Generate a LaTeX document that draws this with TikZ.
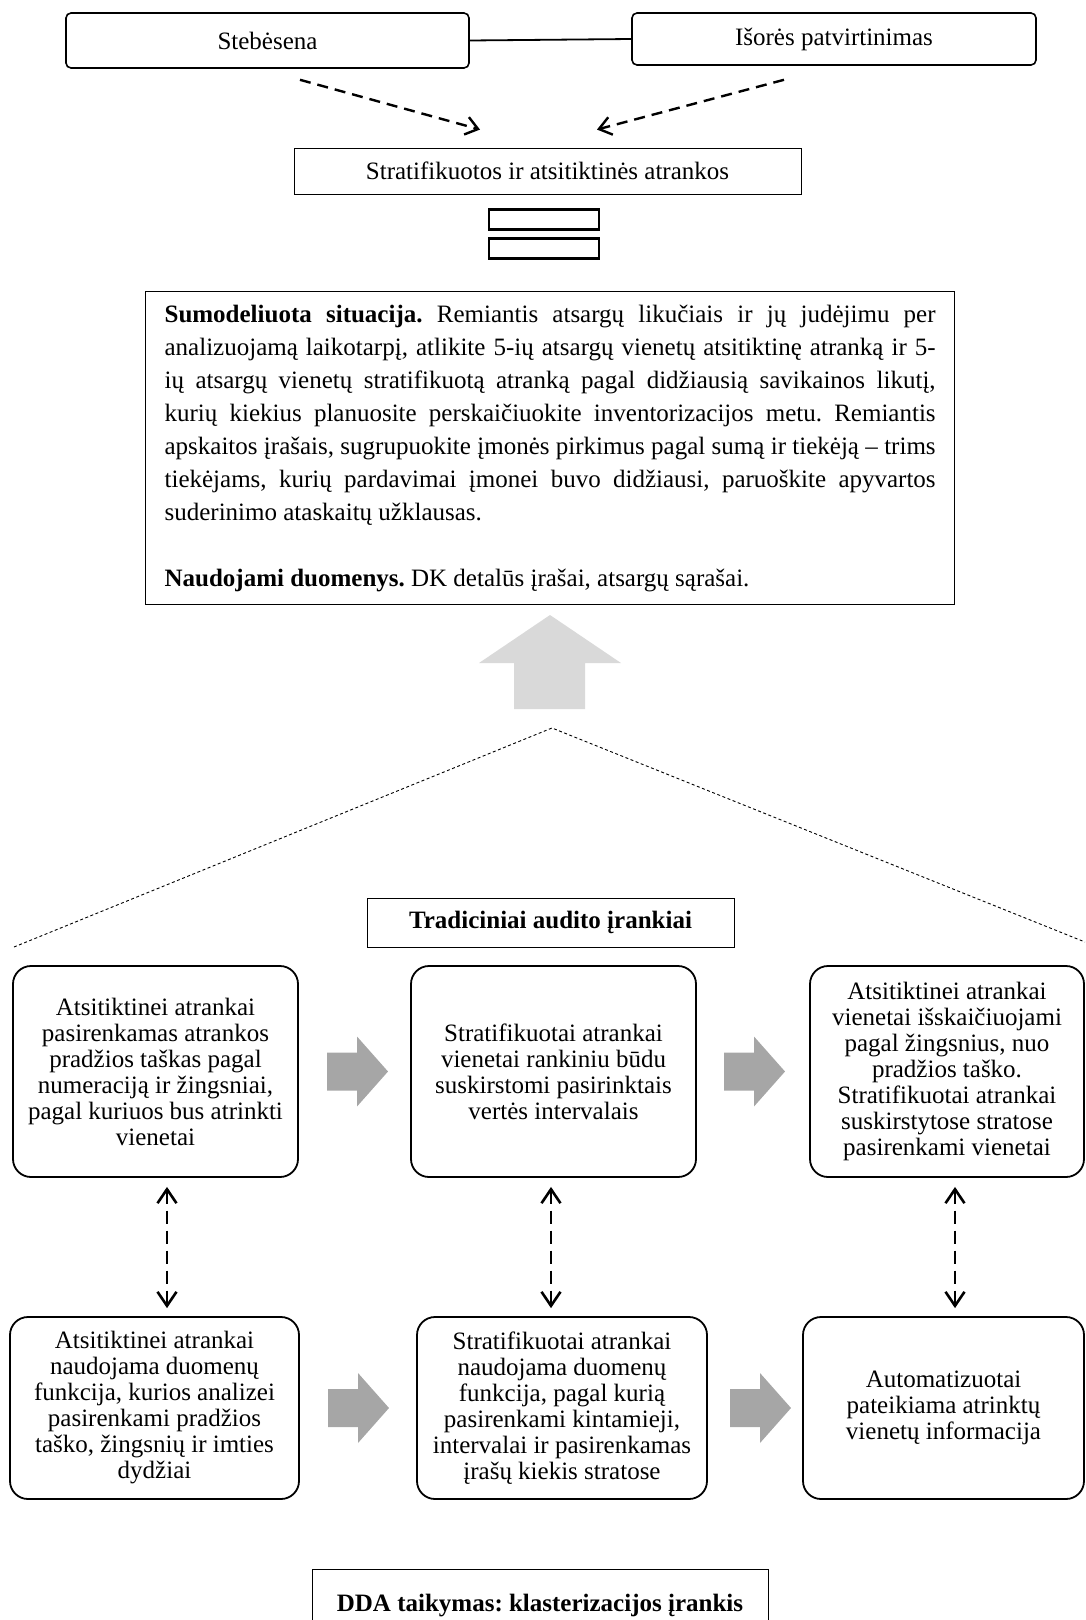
\documentclass[tikz,border=0pt]{standalone}
\usepackage{fontspec}
\setmainfont{Liberation Serif}
\usetikzlibrary{arrows.meta}
\frenchspacing
\newcommand\jline[1]{\hbox to 771pt{\strut #1}}
\newcommand\garrow[2]{\fill[black!35] (#1,#2) ++(0,-19) -- ++(30,0) -- ++(0,-16) -- ++(31,35) -- ++(-31,35) -- ++(0,-16) -- ++(-30,0) -- cycle;}
\begin{document}
\begin{tikzpicture}[x=1pt,y=-1pt,
  topbox/.style={draw, line width=1.6pt, rounded corners=5pt, font=\fontsize{25}{30}\selectfont, inner sep=0pt},
  thinbox/.style={draw, line width=0.9pt, inner sep=0pt, font=\fontsize{25}{30}\selectfont},
  boldbox/.style={thinbox, font=\fontsize{25}{30}\selectfont\bfseries},
  rbox/.style={draw, line width=1.8pt, rounded corners=18pt, align=center, inner sep=0pt, font=\fontsize{25}{26}\selectfont},
  dasharr/.style={line width=2.4pt, dash pattern=on 11pt off 7pt, -{Straight Barb[length=12pt,width=18pt]}},
  dblarr/.style={line width=2.6pt, dash pattern=on 13pt off 7pt, shorten <=9pt, shorten >=8pt, {Straight Barb[length=14pt,width=19pt]}-{Straight Barb[length=14pt,width=19pt]}},
  dotline/.style={line width=0.9pt, dash pattern=on 3pt off 2.5pt},
]
\useasboundingbox (0,0) rectangle (1085,1620);
\clip (0,0) rectangle (1085,1620);

% top
\node[topbox, minimum width=403pt, minimum height=55pt] (steb) at (267.5,40.5) {Stebėsena};
\node[topbox, minimum width=404pt, minimum height=52pt] (isor) at (834,39) {Išorės patvirtinimas};
\draw[line width=1.8pt] (steb.east) -- (isor.west);

\node[thinbox, minimum width=507pt, minimum height=46pt] (strat) at (547.5,171) {Stratifikuotos ir atsitiktinės atrankos};
\draw[dasharr] ([xshift=32.5pt,yshift=-11pt]steb.south) -- ([xshift=-67.5pt,yshift=18pt]strat.north);
\draw[dasharr] ([xshift=-50pt,yshift=-14pt]isor.south) -- ([xshift=49.5pt,yshift=18pt]strat.north);

\node[draw, line width=2.4pt, minimum width=110pt, minimum height=20pt, inner sep=0pt] (r1) at (544,219.5) {};
\node[draw, line width=2.4pt, minimum width=110pt, minimum height=20pt, inner sep=0pt] (r2) at (544,248.5) {};

% main text
\node[draw, line width=1.2pt, anchor=north west, inner xsep=19pt, inner ysep=8pt, align=left, font=\fontsize{25}{33}\selectfont] (main) at (145,291) {%
\jline{\textbf{Sumodeliuota situacija.} Remiantis atsargų likučiais ir jų judėjimu per}\\
\jline{analizuojamą laikotarpį, atlikite 5-ių atsargų vienetų atsitiktinę atranką ir 5-}\\
\jline{ių atsargų vienetų stratifikuotą atranką pagal didžiausią savikainos likutį,}\\
\jline{kurių kiekius planuosite perskaičiuokite inventorizacijos metu. Remiantis}\\
\jline{apskaitos įrašais, sugrupuokite įmonės pirkimus pagal sumą ir tiekėją – trims}\\
\jline{tiekėjams, kurių pardavimai įmonei buvo didžiausi, paruoškite apyvartos}\\
\hbox{\strut suderinimo ataskaitų užklausas.}\\[33pt]
\hbox{\strut\textbf{Naudojami duomenys.} DK detalūs įrašai, atsargų sąrašai.}};

% up arrow
\fill[black!15] (550,615) -- (621,663) -- (585,663) -- (585,709) -- (514,709) -- (514,663) -- (479,663) -- cycle;

% dotted roof
\coordinate (apex) at (552,728);
\coordinate (roofl) at (14,947);
\coordinate (roofr) at (1085,942);
\draw[dotline] (roofl) -- (apex) -- (roofr);

\node[boldbox, minimum width=367pt, minimum height=49pt] (trad) at (550.5,922.5) {Tradiciniai audito įrankiai};

% row 1
\node[rbox, minimum width=285pt, minimum height=211pt] (A) at (155.5,1071.5) {Atsitiktinei atrankai\\pasirenkamas atrankos\\pradžios taškas pagal\\numeraciją ir žingsniai,\\pagal kuriuos bus atrinkti\\vienetai};
\node[rbox, minimum width=285pt, minimum height=211pt] (B) at (553.5,1071.5) {Stratifikuotai atrankai\\vienetai rankiniu būdu\\suskirstomi pasirinktais\\vertės intervalais};
\node[rbox, minimum width=274pt, minimum height=211pt] (C) at (947,1071.5) {Atsitiktinei atrankai\\vienetai išskaičiuojami\\pagal žingsnius, nuo\\pradžios taško.\\Stratifikuotai atrankai\\suskirstytose stratose\\pasirenkami vienetai};

% row 2
\node[rbox, minimum width=289pt, minimum height=182pt] (D) at (154.5,1408) {Atsitiktinei atrankai\\naudojama duomenų\\funkcija, kurios analizei\\pasirenkami pradžios\\taško, žingsnių ir imties\\dydžiai};
\node[rbox, minimum width=290pt, minimum height=182pt] (E) at (562,1408) {Stratifikuotai atrankai\\naudojama duomenų\\funkcija, pagal kurią\\pasirenkami kintamieji,\\intervalai ir pasirenkamas\\įrašų kiekis stratose};
\node[rbox, minimum width=281pt, minimum height=182pt] (F) at (943.5,1408) {Automatizuotai\\pateikiama atrinktų\\vienetų informacija};

% grey block arrows
\garrow{327}{1071.5}
\garrow{724}{1071.5}
\garrow{328}{1408}
\garrow{730}{1408}

% dashed double arrows
\draw[dblarr] ([xshift=11.5pt]A.south) -- ([xshift=11.5pt]A.south |- D.north);
\draw[dblarr] ([xshift=-2.5pt]B.south) -- ([xshift=-2.5pt]B.south |- E.north);
\draw[dblarr] ([xshift=8pt]C.south) -- ([xshift=8pt]C.south |- F.north);

\node[boldbox, minimum width=456pt, minimum height=72pt, anchor=north] (dda) at (540,1569) {DDA taikymas: klasterizacijos įrankis};
\end{tikzpicture}
\end{document}
